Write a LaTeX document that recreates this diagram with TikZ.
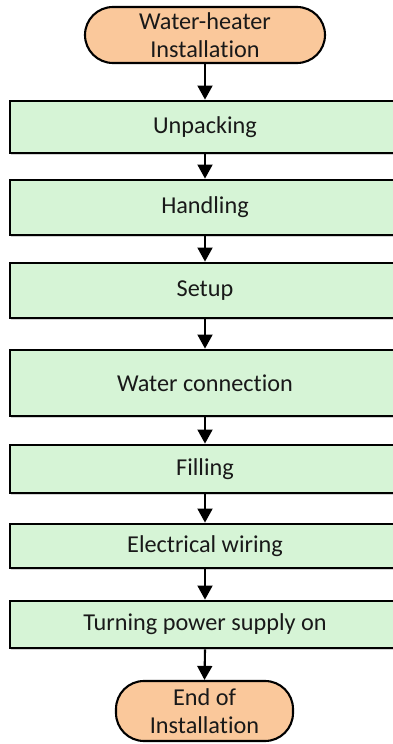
\documentclass[tikz,border=0pt]{standalone}
\usepackage{fontspec}
\setmainfont{Carlito}[Ligatures=NoCommon]
\usetikzlibrary{arrows.meta,shadows}
\definecolor{stepgreen}{RGB}{214,244,214}
\definecolor{endpeach}{RGB}{250,200,155}
\definecolor{inkgray}{RGB}{25,25,25}
\begin{document}
\begin{tikzpicture}[
    font=\fontsize{13.8pt}{16pt}\selectfont,
    stepbox/.style={draw=black, line width=1.6pt, fill=stepgreen, text=inkgray,
        minimum width=7.8cm, inner sep=0pt, align=center,
        drop shadow={shadow xshift=0.4pt, shadow yshift=-1.2pt, opacity=0.35}},
    terminal/.style={draw=black, line width=1.2pt, fill=endpeach, text=inkgray,
        rounded corners=0.56cm, inner sep=0pt, align=center},
    flow/.style={line width=1.2pt, -{Triangle[length=8pt,width=8.5pt]}}
]
    \useasboundingbox (0,0) rectangle (7.86,14.88);

    % start and end of the procedure
    \node[terminal, minimum width=4.8cm, minimum height=1.12cm] (start) at (4.1,14.18) {Water-heater\\Installation};
    \node[terminal, minimum width=3.54cm, minimum height=1.2cm] (finish) at (4.09,0.66) {End of\\Installation};

    % the steps
    \node[stepbox, minimum height=1.04cm] (unpack)  at (4.1,12.34) {Unpacking};
    \node[stepbox, minimum height=1.1cm]  (handle)  at (4.1,10.73) {Handling};
    \node[stepbox, minimum height=1.1cm]  (setup)   at (4.1,9.07)  {Setup};
    \node[stepbox, minimum height=1.32cm] (water)   at (4.1,7.22)  {Water connection};
    \node[stepbox, minimum height=0.96cm] (filling) at (4.1,5.5)   {Filling};
    \node[stepbox, minimum height=0.88cm] (wiring)  at (4.1,3.96)  {Electrical wiring};
    \node[stepbox, minimum height=0.94cm] (power)   at (4.1,2.39)  {Turning power supply on};

    % arrows between the boxes
    \foreach \a/\b in {start/unpack, unpack/handle, handle/setup, setup/water,
                       water/filling, filling/wiring, wiring/power, power/finish}
        \draw[flow] (\a.south) -- (\b.north);
\end{tikzpicture}
\end{document}
